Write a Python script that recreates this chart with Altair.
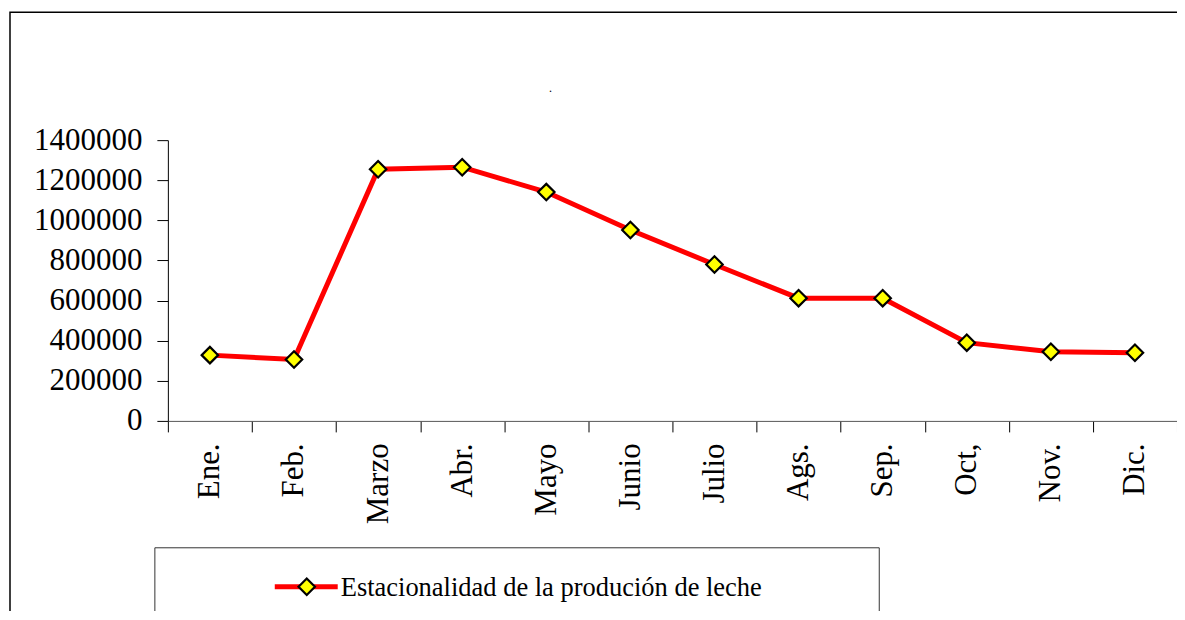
import altair as alt
import pandas as pd

months = ["Ene.", "Feb.", "Marzo", "Abr.", "Mayo", "Junio", "Julio", "Ags.", "Sep.", "Oct,", "Nov.", "Dic."]
values = [328000, 306000, 1255000, 1265000, 1141000, 952000, 780000, 612000, 612000, 390000, 345000, 340000]
series_name = "Estacionalidad de la produción de leche"
y_ticks = [0, 200000, 400000, 600000, 800000, 1000000, 1200000, 1400000]

FONT = "Liberation Serif"

df = pd.DataFrame({"mes": months, "valor": values})
one = pd.DataFrame({"k": [0]})

x_enc = alt.X(
    "mes:N",
    sort=months,
    bandPosition=0.5,
    scale=alt.Scale(type="band", paddingInner=0, paddingOuter=0),
    axis=alt.Axis(
        title=None,
        labelAngle=270,
        labelFont=FONT,
        labelFontSize=31,
        labelColor="black",
        labelPadding=11,
        tickBand="extent",
        tickSize=11,
        tickColor="black",
        domainColor="#555555",
        labelOverlap=False,
    ),
)
y_enc = alt.Y(
    "valor:Q",
    scale=alt.Scale(domain=[0, 1400000], nice=False),
    axis=alt.Axis(
        title=None,
        values=y_ticks,
        format="d",
        grid=False,
        labelFont=FONT,
        labelFontSize=31,
        labelColor="black",
        labelPadding=15,
        tickSize=11,
        tickColor="black",
        domainColor="black",
        labelOverlap=False,
        labelFlush=False,
    ),
)

base = alt.Chart(df).encode(x=x_enc, y=y_enc)
line = base.mark_line(color="#ff0000", strokeWidth=5)
pts = base.mark_point(shape="diamond", filled=True, fill="#ffff00", stroke="black",
                      strokeWidth=2.2, size=270, opacity=1)

# decorative frame and legend box
frame = alt.Chart(one).mark_rect(fill="transparent", stroke="black", strokeWidth=1.5).encode(
    x=alt.value(-158), x2=alt.value(1100), y=alt.value(-128), y2=alt.value(600)
)
legend_box = alt.Chart(one).mark_rect(fill="white", stroke="#333333", strokeWidth=1).encode(
    x=alt.value(-13), x2=alt.value(712), y=alt.value(408), y2=alt.value(600)
)
legend_line = alt.Chart(one).mark_rule(color="#ff0000", strokeWidth=5).encode(
    x=alt.value(107), x2=alt.value(170), y=alt.value(447)
)
legend_pt = alt.Chart(one).mark_point(shape="diamond", filled=True, fill="#ffff00", stroke="black",
                                      strokeWidth=2.2, size=270, opacity=1).encode(
    x=alt.value(139), y=alt.value(447)
)
legend_txt = alt.Chart(one).mark_text(align="left", baseline="middle", font=FONT, fontSize=26.5,
                                      color="black", text=series_name).encode(
    x=alt.value(173), y=alt.value(448)
)
dot = alt.Chart(one).mark_text(align="center", baseline="middle", font=FONT, fontSize=12,
                               color="black", text=".").encode(
    x=alt.value(383), y=alt.value(-52)
)

chart = alt.layer(frame, legend_box, legend_line, legend_pt, legend_txt, dot, line, pts).properties(
    width=1010,
    height=281,
    autosize=alt.AutoSizeParams(type="none"),
    padding={"left": 160, "top": 132, "right": 0, "bottom": 190},
    background="white",
).configure_view(strokeWidth=0)

chart.save("out.html", embed_options={"renderer": "svg", "actions": False})
